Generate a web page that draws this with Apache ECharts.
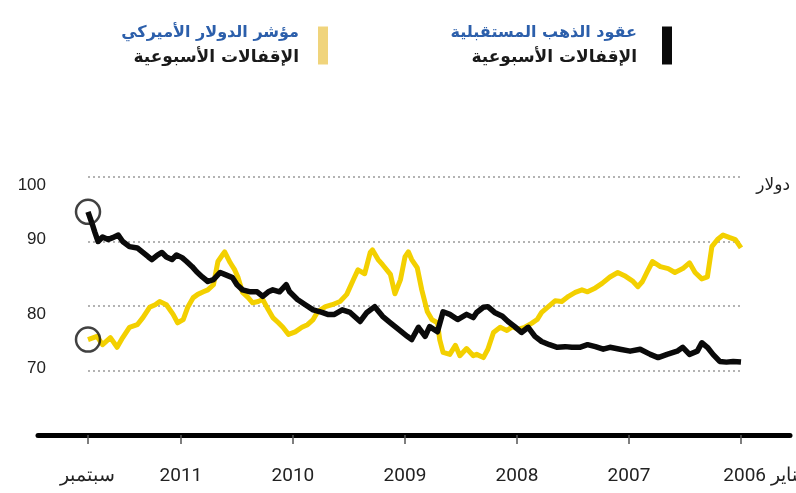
<!DOCTYPE html>
<html>
<head>
<meta charset="utf-8">
<script src="https://cdn.jsdelivr.net/npm/echarts@6/dist/echarts.min.js"></script>
<style>
  html, body { margin: 0; padding: 0; background: #fff; }
  #chart { width: 796px; height: 493px; }
</style>
</head>
<body>
<div id="chart"></div>
<script>
// weekly closes, x as decimal year (Sep 2011 -> Jan 2006)
var goldYears = [2011.83, 2011.79, 2011.77, 2011.74, 2011.70, 2011.65, 2011.61, 2011.56, 2011.52, 2011.46,
  2011.39, 2011.34, 2011.29, 2011.26, 2011.21, 2011.17, 2011.13, 2011.08, 2011.04, 2010.99,
  2010.95, 2010.90, 2010.86, 2010.81, 2010.76, 2010.71, 2010.65, 2010.61, 2010.54, 2010.50,
  2010.45, 2010.38, 2010.32, 2010.27, 2010.22, 2010.18, 2010.12, 2010.06, 2010.03, 2009.96,
  2009.89, 2009.82, 2009.74, 2009.69, 2009.63, 2009.56, 2009.49, 2009.40, 2009.34, 2009.27,
  2009.20, 2009.13, 2009.06, 2008.98, 2008.94, 2008.88, 2008.82, 2008.78, 2008.71, 2008.66,
  2008.60, 2008.53, 2008.45, 2008.39, 2008.36, 2008.30, 2008.26, 2008.20, 2008.13, 2008.08,
  2008.02, 2007.96, 2007.90, 2007.84, 2007.78, 2007.71, 2007.64, 2007.57, 2007.51, 2007.44,
  2007.37, 2007.30, 2007.23, 2007.17, 2007.08, 2006.99, 2006.90, 2006.81, 2006.74, 2006.66,
  2006.57, 2006.52, 2006.46, 2006.39, 2006.35, 2006.30, 2006.25, 2006.19, 2006.13, 2006.07, 2006.00];
var goldValues = [94.6, 92.6, 91.5, 90.0, 90.7, 90.3, 90.6, 91.0, 90.0, 89.2,
  89.0, 88.3, 87.6, 87.2, 87.9, 88.3, 87.6, 87.2, 87.9, 87.5,
  86.9, 86.1, 85.3, 84.5, 83.8, 84.1, 85.2, 84.9, 84.4, 83.3,
  82.5, 82.2, 82.2, 81.5, 82.2, 82.5, 82.2, 83.3, 82.2, 81.0,
  80.2, 79.4, 79.0, 78.7, 78.7, 79.4, 79.0, 77.6, 79.0, 79.9,
  78.4, 77.4, 76.4, 75.3, 74.8, 76.7, 75.3, 76.8, 76.0, 79.1,
  78.7, 77.9, 78.7, 78.2, 79.0, 79.8, 79.9, 79.0, 78.4, 77.6,
  76.8, 75.9, 76.7, 75.3, 74.5, 74.0, 73.6, 73.7, 73.6, 73.6,
  74.0, 73.7, 73.3, 73.6, 73.3, 73.0, 73.3, 72.5, 72.0, 72.5,
  73.0, 73.6, 72.5, 73.0, 74.3, 73.6, 72.5, 71.4, 71.3, 71.4, 71.3];

var dollarYears = [2011.83, 2011.75, 2011.70, 2011.63, 2011.57, 2011.52, 2011.46, 2011.39, 2011.34, 2011.28,
  2011.23, 2011.19, 2011.13, 2011.07, 2011.03, 2010.98, 2010.94, 2010.89, 2010.85, 2010.80,
  2010.76, 2010.71, 2010.67, 2010.63, 2010.61, 2010.56, 2010.52, 2010.49, 2010.45, 2010.40,
  2010.36, 2010.31, 2010.27, 2010.22, 2010.18, 2010.13, 2010.09, 2010.04, 2009.98, 2009.92,
  2009.87, 2009.82, 2009.78, 2009.71, 2009.65, 2009.58, 2009.52, 2009.46, 2009.42, 2009.36,
  2009.31, 2009.29, 2009.24, 2009.20, 2009.13, 2009.09, 2009.04, 2009.00, 2008.97, 2008.94,
  2008.89, 2008.85, 2008.80, 2008.76, 2008.71, 2008.69, 2008.66, 2008.60, 2008.55, 2008.51,
  2008.45, 2008.39, 2008.36, 2008.30, 2008.26, 2008.21, 2008.15, 2008.09, 2008.04, 2007.99,
  2007.93, 2007.87, 2007.82, 2007.78, 2007.72, 2007.66, 2007.60, 2007.54, 2007.48, 2007.42,
  2007.37, 2007.30, 2007.24, 2007.17, 2007.10, 2007.04, 2006.97, 2006.92, 2006.88, 2006.84,
  2006.79, 2006.72, 2006.65, 2006.59, 2006.52, 2006.46, 2006.41, 2006.35, 2006.30, 2006.26,
  2006.21, 2006.16, 2006.10, 2006.05, 2006.00];
var dollarValues = [74.8, 75.3, 74.0, 75.1, 73.6, 75.1, 76.7, 77.1, 78.2, 79.8,
  80.2, 80.7, 80.2, 78.7, 77.4, 77.9, 79.8, 81.3, 81.8, 82.2,
  82.5, 83.3, 86.9, 87.9, 88.4, 86.7, 85.6, 84.4, 82.1, 81.3,
  80.5, 80.7, 81.0, 79.4, 78.2, 77.4, 76.7, 75.6, 76.0, 76.7,
  77.1, 77.9, 79.1, 79.9, 80.2, 80.7, 81.8, 84.1, 85.6, 85.0,
  88.3, 88.7, 87.2, 86.4, 84.9, 81.9, 84.1, 87.6, 88.4, 87.2,
  85.9, 82.5, 79.1, 77.9, 77.4, 74.8, 72.8, 72.5, 73.9, 72.3,
  73.4, 72.3, 72.5, 72.0, 73.3, 75.9, 76.7, 76.2, 76.8, 76.4,
  76.7, 77.3, 77.9, 79.0, 79.9, 80.8, 80.7, 81.5, 82.1, 82.5,
  82.2, 82.8, 83.5, 84.5, 85.2, 84.7, 83.9, 83.0, 83.8, 85.2,
  86.9, 86.1, 85.8, 85.2, 85.8, 86.7, 85.2, 84.2, 84.5, 89.2,
  90.3, 91.0, 90.6, 90.3, 89.0];

var xTicks = [2006, 2007, 2008, 2009, 2010, 2011, 2011.83];
var xTickLabels = ['2006 يناير', '2007', '2008', '2009', '2010', '2011', 'سبتمبر'];

var goldName = 'عقود الذهب المستقبلية';
var dollarName = 'مؤشر الدولار الأميركي';
var subTitle = 'الإقفالات الأسبوعية';

function pairs(xs, ys) {
  return xs.map(function (x, i) { return [x, ys[i]]; });
}

var arabicFont = '"DejaVu Sans", sans-serif';
var narrowFont = '"Liberation Sans Narrow", "Roboto", sans-serif';
var legendRich = {
  t: { color: '#2c5fab', fontSize: 16, fontWeight: 'bold', lineHeight: 25, fontFamily: arabicFont },
  s: { color: '#1a1a1a', fontSize: 17, fontWeight: 'bold', lineHeight: 25, fontFamily: arabicFont }
};
function legendText(name) {
  return '{t|' + name + '}\n{s|' + subTitle + '}';
}

var chart = echarts.init(document.getElementById('chart'));
chart.setOption({
  animation: false,
  backgroundColor: '#fff',
  legend: [
    {
      data: [{ name: goldName, itemStyle: { color: '#0a0a0a' } }],
      right: 124, top: 25, padding: 0, align: 'right', icon: 'rect',
      itemWidth: 10, itemHeight: 38, selectedMode: false,
      formatter: legendText,
      textStyle: { rich: legendRich, padding: [0, 20, 0, 0] }
    },
    {
      data: [{ name: dollarName, itemStyle: { color: '#f0d47c' } }],
      right: 468, top: 25, padding: 0, align: 'right', icon: 'rect',
      itemWidth: 10, itemHeight: 38, selectedMode: false,
      formatter: legendText,
      textStyle: { rich: legendRich, padding: [0, 14, 0, 0] }
    }
  ],
  graphic: [
    {
      type: 'text', right: 6, top: 177,
      style: { text: 'دولار', fontSize: 17, fill: '#222', fontFamily: arabicFont }
    }
  ],
  grid: [
    { left: 88, right: 55, top: 177, bottom: 58, outerBoundsMode: 'none' },
    { left: 38, right: 6, top: 177, bottom: 58, outerBoundsMode: 'none' }
  ],
  xAxis: [
    {
      gridIndex: 0, type: 'value', inverse: true, min: 2006, max: 2011.83, show: false
    },
    {
      gridIndex: 1, type: 'value', inverse: true, min: 2005.5625, max: 2012.276,
      axisLine: { show: true, onZero: false, lineStyle: { color: '#000', width: 5 } },
      axisTick: { show: true, customValues: xTicks, length: 9, lineStyle: { color: '#555', width: 1.5 } },
      axisLabel: {
        customValues: xTicks,
        margin: 32,
        fontSize: 19,
        color: '#222',
        fontFamily: narrowFont,
        formatter: function (v) {
          var i = xTicks.indexOf(v);
          if (i === 0) return '{r|' + xTickLabels[0] + '}';
          return i >= 0 ? xTickLabels[i] : '';
        },
        rich: {
          r: { fontSize: 19, color: '#222', fontFamily: narrowFont, padding: [0, 0, 0, 44] }
        }
      },
      splitLine: { show: false }
    }
  ],
  yAxis: [
    {
      gridIndex: 0, type: 'value', min: 60, max: 100, interval: 10,
      axisLine: { show: false },
      axisTick: { show: false },
      axisLabel: {
        margin: 42,
        formatter: function (v) {
          if (v === 100 || v === 80) return '{lo|' + v + '}';
          if (v === 90 || v === 70) return '{hi|' + v + '}';
          return '';
        },
        rich: {
          lo: { fontSize: 17, color: '#222', fontFamily: '"Liberation Sans", sans-serif', padding: [16, 0, 0, 0] },
          hi: { fontSize: 17, color: '#222', fontFamily: '"Liberation Sans", sans-serif', padding: [0, 0, 5, 0] }
        }
      },
      splitLine: { show: true, lineStyle: { color: '#9a9a9a', width: 1.5, type: [2, 3] } }
    },
    {
      gridIndex: 1, type: 'value', min: 0, max: 1, show: false
    }
  ],
  series: [
    {
      name: dollarName, type: 'line', xAxisIndex: 0, yAxisIndex: 0,
      data: pairs(dollarYears, dollarValues),
      symbol: 'none',
      lineStyle: { color: '#f3d000', width: 5, join: 'round' },
      itemStyle: { color: '#f0d47c' }
    },
    {
      name: goldName, type: 'line', xAxisIndex: 0, yAxisIndex: 0,
      data: pairs(goldYears, goldValues),
      symbol: 'none',
      lineStyle: { color: '#0a0a0a', width: 5.5, join: 'round' },
      itemStyle: { color: '#0a0a0a' }
    },
    {
      // start-of-period markers
      type: 'scatter', xAxisIndex: 0, yAxisIndex: 0,
      data: [[goldYears[0], goldValues[0]], [dollarYears[0], dollarValues[0]]],
      symbolSize: 24,
      itemStyle: { color: 'rgba(0,0,0,0)', borderColor: '#111', borderWidth: 2.5 },
      z: 5
    }
  ]
});
</script>
</body>
</html>
